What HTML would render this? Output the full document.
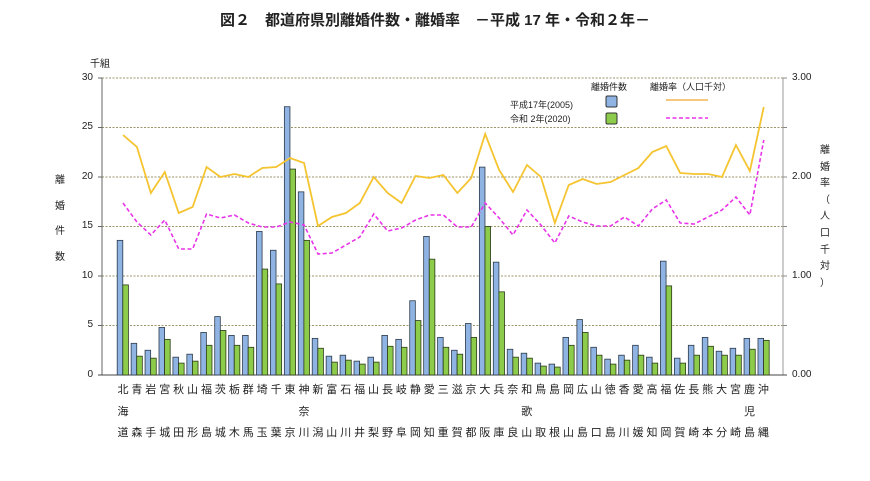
<!DOCTYPE html>
<html><head><meta charset="utf-8"><style>
body{margin:0;background:#fff;width:870px;height:481px;overflow:hidden;position:relative;font-family:"Liberation Sans","Noto Sans CJK JP",sans-serif;color:#222}
.t{position:absolute;white-space:nowrap}
#labs{position:absolute;left:116px;top:384px;display:flex}
#labs div{width:13.93px;height:56px;display:flex;flex-direction:column;justify-content:space-between;align-items:center;font-size:11px;line-height:13px}
.yl{position:absolute;font-size:10px;width:30px;text-align:right}
.yr{position:absolute;font-size:10px}
.vt{position:absolute;font-size:10px;width:12px;text-align:center;line-height:25.5px}
.vr{position:absolute;font-size:10px;width:12px;text-align:center;line-height:16.6px}
</style></head><body>
<div class="t" style="left:0;width:870px;text-align:center;top:9px;font-size:15px;font-weight:bold">図２　都道府県別離婚件数・離婚率　－平成 17 年・令和２年－</div>
<div class="t" style="left:90px;top:55px;font-size:10px">千組</div>
<div class="yl" style="left:63px;top:72px">30</div>
<div class="yl" style="left:63px;top:121px">25</div>
<div class="yl" style="left:63px;top:171px">20</div>
<div class="yl" style="left:63px;top:220px">15</div>
<div class="yl" style="left:63px;top:270px">10</div>
<div class="yl" style="left:63px;top:319px">5</div>
<div class="yl" style="left:63px;top:369px">0</div>
<div class="yr" style="left:792px;top:72px">3.00</div>
<div class="yr" style="left:792px;top:171px">2.00</div>
<div class="yr" style="left:792px;top:270px">1.00</div>
<div class="yr" style="left:792px;top:369px">0.00</div>
<div class="vt" style="left:54px;top:168px">離<br>婚<br>件<br>数</div>
<div class="vr" style="left:819px;top:143px">離<br>婚<br>率<br>（<br>人<br>口<br>千<br>対<br>）</div>
<div class="t" style="left:591px;top:80px;font-size:9px">離婚件数</div>
<div class="t" style="left:650px;top:80px;font-size:9px">離婚率（人口千対）</div>
<div class="t" style="left:510px;top:98px;font-size:9px">平成17年(2005)</div>
<div class="t" style="left:510px;top:112px;font-size:9px">令和 2年(2020)</div>
<svg width="870" height="481" style="position:absolute;left:0;top:0" id="s"></svg>
<div id="labs">
<div><span>北</span><span>海</span><span>道</span></div><div><span>青</span><span>森</span></div><div><span>岩</span><span>手</span></div><div><span>宮</span><span>城</span></div><div><span>秋</span><span>田</span></div><div><span>山</span><span>形</span></div><div><span>福</span><span>島</span></div><div><span>茨</span><span>城</span></div><div><span>栃</span><span>木</span></div><div><span>群</span><span>馬</span></div><div><span>埼</span><span>玉</span></div><div><span>千</span><span>葉</span></div><div><span>東</span><span>京</span></div><div><span>神</span><span>奈</span><span>川</span></div><div><span>新</span><span>潟</span></div><div><span>富</span><span>山</span></div><div><span>石</span><span>川</span></div><div><span>福</span><span>井</span></div><div><span>山</span><span>梨</span></div><div><span>長</span><span>野</span></div><div><span>岐</span><span>阜</span></div><div><span>静</span><span>岡</span></div><div><span>愛</span><span>知</span></div><div><span>三</span><span>重</span></div><div><span>滋</span><span>賀</span></div><div><span>京</span><span>都</span></div><div><span>大</span><span>阪</span></div><div><span>兵</span><span>庫</span></div><div><span>奈</span><span>良</span></div><div><span>和</span><span>歌</span><span>山</span></div><div><span>鳥</span><span>取</span></div><div><span>島</span><span>根</span></div><div><span>岡</span><span>山</span></div><div><span>広</span><span>島</span></div><div><span>山</span><span>口</span></div><div><span>徳</span><span>島</span></div><div><span>香</span><span>川</span></div><div><span>愛</span><span>媛</span></div><div><span>高</span><span>知</span></div><div><span>福</span><span>岡</span></div><div><span>佐</span><span>賀</span></div><div><span>長</span><span>崎</span></div><div><span>熊</span><span>本</span></div><div><span>大</span><span>分</span></div><div><span>宮</span><span>崎</span></div><div><span>鹿</span><span>児</span><span>島</span></div><div><span>沖</span><span>縄</span></div>
</div>
<script>
var b1=[13.6,3.2,2.5,4.8,1.8,2.1,4.3,5.9,4.0,4.0,14.5,12.6,27.1,18.5,3.7,1.9,2.0,1.4,1.8,4.0,3.6,7.5,14.0,3.8,2.5,5.2,21.0,11.4,2.6,2.2,1.2,1.1,3.8,5.6,2.8,1.6,2.0,3.0,1.8,11.5,1.7,3.0,3.8,2.4,2.7,3.7,3.7];
var b2=[9.1,1.9,1.7,3.6,1.2,1.4,3.0,4.5,3.0,2.8,10.7,9.2,20.8,13.6,2.7,1.3,1.5,1.1,1.3,2.9,2.8,5.5,11.7,2.8,2.1,3.8,15.0,8.4,1.8,1.7,0.9,0.8,3.0,4.3,2.0,1.1,1.5,2.0,1.2,9.0,1.2,2.0,2.9,2.0,2.0,2.6,3.5];
var y1=[135,147,193,172,213,207,167,177,174,177,168,167,158,163,226,217,213,203,177,193,203,176,178,175,193,178,134,170,192,165,177,223,185,179,184,182,175,168,152,146,173,174,174,177,145,171,107];
var y2=[203,222,235,220,249,249,214,218,215,223,227,227,222,225,254,253,245,237,214,231,228,220,215,215,227,227,203,218,235,210,225,243,216,222,226,226,217,226,209,200,223,224,217,210,197,215,140];
var s='';
for(var v=5;v<=30;v+=5){var y=375-v*9.9;s+='<line x1="102" x2="783" y1="'+y+'" y2="'+y+'" stroke="#9a9468" stroke-width="1" stroke-dasharray="2,1.5"/>';}
for(var v=0;v<=30;v+=5){var y=375-v*9.9;s+='<line x1="98" x2="102" y1="'+y+'" y2="'+y+'" stroke="#666"/>';}
for(var v=0;v<=6;v++){var y=375-v*49.5;s+='<line x1="783" x2="787" y1="'+y+'" y2="'+y+'" stroke="#888"/>';}
s+='<line x1="102" x2="102" y1="78" y2="375" stroke="#666"/><line x1="783" x2="783" y1="78" y2="375" stroke="#999"/><line x1="98" x2="787" y1="375" y2="375" stroke="#444"/>';
var p1='',p2='';
for(var i=0;i<47;i++){var c=123+i*13.93;
var h1=b1[i]*9.9,h2=b2[i]*9.9;
s+='<rect x="'+(c-5.8)+'" y="'+(375-h1)+'" width="5.6" height="'+h1+'" fill="#8fb4e3" stroke="#2c3a4a" stroke-width="0.8"/>';
s+='<rect x="'+(c-0.2)+'" y="'+(375-h2)+'" width="5.6" height="'+h2+'" fill="#8dcc4a" stroke="#2c3a1a" stroke-width="0.8"/>';
p1+=c+','+y1[i]+' ';p2+=c+','+y2[i]+' ';}
s+='<polyline points="'+p1+'" fill="none" stroke="#f5c431" stroke-width="1.8"/>';
s+='<polyline points="'+p2+'" fill="none" stroke="#e834e8" stroke-width="1.6" stroke-dasharray="4,2.5"/>';
s+='<rect x="606" y="96" width="11" height="11" rx="1.5" fill="#8fb4e3" stroke="#333"/><rect x="606" y="113" width="11" height="11" rx="1.5" fill="#8dcc4a" stroke="#333"/>';
s+='<line x1="666" x2="708" y1="100" y2="100" stroke="#f0a830" stroke-width="1.2"/><line x1="666" x2="708" y1="118" y2="118" stroke="#e834e8" stroke-width="1.5" stroke-dasharray="4,2.5"/>';
document.getElementById('s').innerHTML=s;
</script>
</body></html>
